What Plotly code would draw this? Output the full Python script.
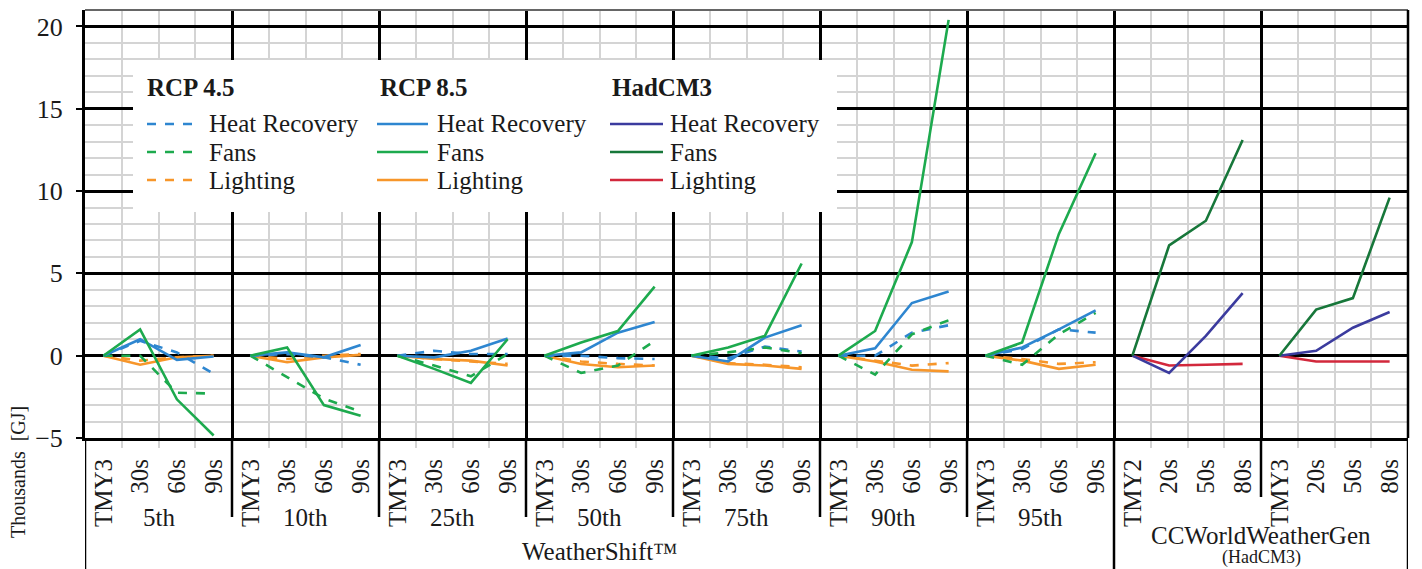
import plotly.graph_objects as go

# ---------------- data ----------------
ws_groups = ["5th", "10th", "25th", "50th", "75th", "90th", "95th"]
ws_periods = ["TMY3", "30s", "60s", "90s"]
cc_periods_a = ["TMY2", "20s", "50s", "80s"]
cc_periods_b = ["TMY3", "20s", "50s", "80s"]

# WeatherShift, 7 groups x 4 periods (TMY3, 30s, 60s, 90s)
hr_45 = [0, 0.9, 0.2, -1.1,   0, 0.1, -0.1, -0.55,  0, 0.3, 0.1, 0.1,
         0, 0.0, -0.15, -0.2, 0, -0.15, 0.55, 0.25, 0, 0.0, 1.4, 1.85,
         0, 0.4, 1.6, 1.4]
fans_45 = [0, 0.0, -2.25, -2.3, 0, -1.3, -2.6, -3.4, 0, -0.6, -1.25, 0.1,
           0, -1.05, -0.6, 0.9,  0, 0.2, 0.5, 0.15,   0, -1.15, 1.3, 2.15,
           0, -0.55, 1.3, 2.6]
light_45 = [0, -0.3, -0.1, 0.0,  0, -0.2, 0.0, 0.1,   0, -0.2, -0.35, -0.5,
            0, -0.35, -0.5, -0.6, 0, -0.45, -0.55, -0.7, 0, -0.3, -0.6, -0.45,
            0, -0.2, -0.5, -0.4]
hr_85 = [0, 1.0, -0.25, -0.05, 0, 0.2, -0.1, 0.65,  0, -0.1, 0.3, 1.05,
         0, 0.2, 1.4, 2.05,    0, -0.35, 1.1, 1.85, 0, 0.45, 3.2, 3.9,
         0, 0.5, 1.6, 2.75]
fans_85 = [0, 1.6, -2.65, -4.85, 0, 0.5, -3.0, -3.65, 0, -0.8, -1.65, 1.0,
           0, 0.8, 1.5, 4.2,     0, 0.5, 1.2, 5.6,     0, 1.5, 6.9, 20.4,
           0, 0.8, 7.4, 12.3]
light_85 = [0, -0.55, -0.1, 0.0, 0, -0.4, -0.1, 0.05, 0, -0.2, -0.3, -0.6,
            0, -0.5, -0.7, -0.6,  0, -0.5, -0.6, -0.8,  0, -0.35, -0.85, -0.95,
            0, -0.3, -0.8, -0.55]

# CCWorldWeatherGen (HadCM3), 2 groups x 4 periods
hr_had = [0, -1.05, 1.2, 3.8, 0, 0.3, 1.7, 2.65]
fans_had = [0, 6.7, 8.2, 13.1, 0, 2.8, 3.5, 9.6]
light_had = [0, -0.6, -0.55, -0.5, 0, -0.35, -0.35, -0.35]

series_names = ["Heat Recovery", "Fans", "Lighting"]
scenario_titles = ["RCP 4.5", "RCP 8.5", "HadCM3"]
y_ticks = [-5, 0, 5, 10, 15, 20]

# ---------------- styling ----------------
BLUE = "#2E86D0"
GREEN = "#1DAA4E"
ORANGE = "#F7962A"
NAVY = "#3B3B9E"
DKGREEN = "#17773A"
RED = "#D2283C"
FONT = "Liberation Serif"
TXT = "#1a1a1a"

W, H = 1422, 569
ML, MR, MT, MB = 85, 14, 10, 131
PW, PH = W - ML - MR, H - MT - MB


def px_x(px):
    return (px - ML) / PW


def px_y(py):
    return (H - MB - py) / PH


def seg(values, start_group):
    xs, ys = [], []
    for k, v in enumerate(values):
        g = k // 4 + start_group
        i = k % 4
        if k > 0 and i == 0:
            xs.append(None)
            ys.append(None)
        xs.append(4 * g + i + 0.5)
        ys.append(v)
    return xs, ys


fig = go.Figure()

traces = [
    (light_45, 0, ORANGE, "dash"), (light_85, 0, ORANGE, "solid"),
    (hr_45, 0, BLUE, "dash"), (fans_45, 0, GREEN, "dash"),
    (hr_85, 0, BLUE, "solid"), (fans_85, 0, GREEN, "solid"),
    (light_had, 7, RED, "solid"), (hr_had, 7, NAVY, "solid"),
    (fans_had, 7, DKGREEN, "solid"),
]
for vals, g0, col, dash in traces:
    xs, ys = seg(vals, g0)
    fig.add_trace(go.Scatter(x=xs, y=ys, mode="lines",
                             line=dict(color=col, width=2.6, dash=dash),
                             showlegend=False, hoverinfo="skip"))

# dummy trace to carry the category-label axis
cat_labels = ws_periods * 7 + cc_periods_a + cc_periods_b
cat_pos = [i + 0.5 for i in range(36)]
fig.add_trace(go.Scatter(x=[0, 36], y=[None, None], xaxis="x2", mode="lines",
                         showlegend=False, hoverinfo="skip"))

fig.update_layout(
    width=W, height=H,
    margin=dict(l=ML, r=MR, t=MT, b=MB),
    paper_bgcolor="white", plot_bgcolor="white",
    font=dict(family=FONT, color=TXT, size=25),
    xaxis=dict(range=[0, 36], tick0=0, dtick=4, showgrid=True,
               gridcolor="black", gridwidth=2.5, showticklabels=False,
               ticks="", zeroline=False, showline=True, linecolor="black",
               linewidth=2.5,
               minor=dict(tick0=0, dtick=1, showgrid=True, gridcolor="#D4D4D4",
                          gridwidth=1.5, ticks="outside", ticklen=7,
                          tickcolor="#D4D4D4", tickwidth=1.5)),
    xaxis2=dict(range=[0, 36], overlaying="x", anchor="y", side="bottom",
                tickmode="array", tickvals=cat_pos, ticktext=cat_labels,
                tickangle=-90, showgrid=False, zeroline=False, ticks="outside",
                ticklen=10, tickcolor="rgba(0,0,0,0)",
                tickfont=dict(family=FONT, size=25, color=TXT)),
    yaxis=dict(range=[-5, 21], tickmode="array", tickvals=y_ticks,
               showgrid=True, gridcolor="black", gridwidth=2.5,
               zeroline=False, showline=True, linecolor="black", linewidth=3,
               ticks="outside", ticklen=6, tickwidth=2, tickcolor="black",
               ticklabelstandoff=8,
               tickfont=dict(family=FONT, size=26, color=TXT),
               minor=dict(tick0=0, dtick=1, showgrid=True, gridcolor="#D4D4D4",
                          gridwidth=1.5)),
)

shapes = []
# top border
shapes.append(dict(type="line", xref="paper", yref="paper", x0=0, x1=1, y0=1, y1=1,
                   line=dict(color="#666666", width=2)))
# right border
shapes.append(dict(type="line", xref="paper", yref="paper", x0=1, x1=1, y0=0, y1=1,
                   line=dict(color="black", width=2.5)))
# legend background box (covers gridlines)
shapes.append(dict(type="rect", xref="paper", yref="paper", layer="above",
                   x0=px_x(133), x1=px_x(837), y0=px_y(212), y1=px_y(60),
                   fillcolor="white", line=dict(width=0)))
# separators in category-label area
for gx in [4, 8, 12, 16, 20, 24]:
    shapes.append(dict(type="line", xref="x", yref="paper", x0=gx, x1=gx,
                       y0=0, y1=px_y(517), line=dict(color="black", width=2.5)))
shapes.append(dict(type="line", xref="x", yref="paper", x0=32, x1=32,
                   y0=0, y1=px_y(497), line=dict(color="black", width=2.5)))
for gx in [0, 28, 36]:
    shapes.append(dict(type="line", xref="x", yref="paper", x0=gx, x1=gx,
                       y0=0, y1=px_y(569), line=dict(color="black", width=2.5)))

annotations = []
# group labels
for gi, name in enumerate(ws_groups):
    annotations.append(dict(x=4 * gi + 2, y=px_y(517), xref="x", yref="paper",
                            text=name, showarrow=False, xanchor="center",
                            yanchor="middle", font=dict(size=25)))
annotations.append(dict(x=14, y=px_y(551), xref="x", yref="paper",
                        text="WeatherShift™", showarrow=False, xanchor="center",
                        yanchor="middle", font=dict(size=25)))
annotations.append(dict(x=32, y=px_y(535), xref="x", yref="paper",
                        text="CCWorldWeatherGen", showarrow=False, xanchor="center",
                        yanchor="middle", font=dict(size=25)))
annotations.append(dict(x=32, y=px_y(557), xref="x", yref="paper",
                        text="(HadCM3)", showarrow=False, xanchor="center",
                        yanchor="middle", font=dict(size=18)))
# y-axis title
annotations.append(dict(x=px_x(18), y=px_y(472), xref="paper", yref="paper",
                        text="Thousands  [GJ]", showarrow=False, textangle=-90,
                        xanchor="center", yanchor="middle", font=dict(size=20)))

# manual legend (three columns)
leg_cols = [
    (145, 147, 200, 207, [(BLUE, "dash"), (GREEN, "dash"), (ORANGE, "dash")]),
    (378, 377, 428, 435, [(BLUE, "solid"), (GREEN, "solid"), (ORANGE, "solid")]),
    (610, 610, 663, 668, [(NAVY, "solid"), (DKGREEN, "solid"), (RED, "solid")]),
]
row_y = [124, 152, 180]
for (tx, lx0, lx1, itx, styles), title in zip(leg_cols, scenario_titles):
    annotations.append(dict(x=px_x(tx), y=px_y(88), xref="paper", yref="paper",
                            text="<b>" + title + "</b>", showarrow=False,
                            xanchor="left", yanchor="middle", font=dict(size=25)))
    for (col, dash), ry, nm in zip(styles, row_y, series_names):
        shapes.append(dict(type="line", xref="paper", yref="paper", layer="above",
                           x0=px_x(lx0), x1=px_x(lx1), y0=px_y(ry), y1=px_y(ry),
                           line=dict(color=col, width=2.6, dash=dash)))
        annotations.append(dict(x=px_x(itx), y=px_y(ry), xref="paper", yref="paper",
                                text=nm, showarrow=False, xanchor="left",
                                yanchor="middle", font=dict(size=25)))

fig.update_layout(shapes=shapes, annotations=annotations)
fig.write_html("out.html")
